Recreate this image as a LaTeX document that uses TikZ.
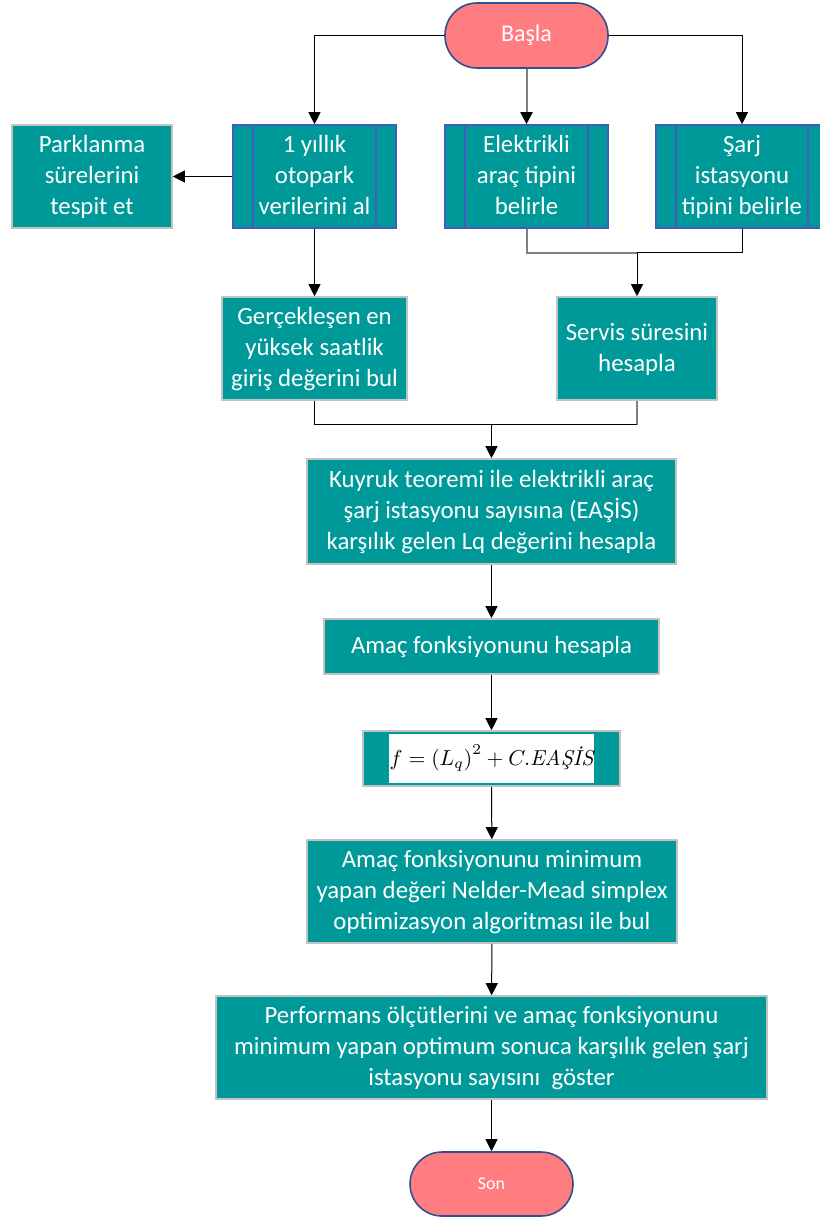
\documentclass[tikz,border=0pt]{standalone}
\usepackage{fix-cm}
\usepackage{amsmath}
\usepackage{fontspec}
\setmainfont{Carlito}
\newfontfamily\lmfont{Latin Modern Roman}
\usetikzlibrary{arrows.meta}
\definecolor{tealbox}{RGB}{0,153,153}
\definecolor{termfill}{RGB}{255,124,128}
\definecolor{termline}{RGB}{47,82,143}
\definecolor{predline}{RGB}{68,90,190}
\definecolor{boxline}{RGB}{195,195,195}
\tikzstyle{terminal} = [rectangle, rounded corners=16pt, minimum width=81.5pt, minimum height=32.5pt, fill=termfill, draw=termline, line width=0.8pt, text=white, font=\fontsize{12}{15}\selectfont]
\tikzstyle{process} = [rectangle, fill=tealbox, draw=boxline, line width=0.8pt, text=white, align=center, inner sep=0pt, text depth=1.5pt, font=\fontsize{12.4}{15.5}\selectfont]
\tikzstyle{predef} = [process, draw=predline, minimum width=81.5pt, minimum height=51.5pt, path picture={\draw[predline, line width=0.8pt] ([xshift=10pt]path picture bounding box.north west) -- ([xshift=10pt]path picture bounding box.south west) ([xshift=-10pt]path picture bounding box.north east) -- ([xshift=-10pt]path picture bounding box.south east);}]
\tikzstyle{arrow} = [line width=0.5pt, -{Triangle[width=6pt,length=6pt,color=black]}]
\tikzstyle{line} = [line width=0.5pt]
\tikzstyle{greyline} = [line width=1pt, draw=black!50]

\begin{document}
\begin{tikzpicture}[x=0.5pt, y=-0.5pt]
   \useasboundingbox (0,0) rectangle (819,1218);
   \node (start) [terminal] at (526.5,35.5) {Başla};
   \node (p1) [predef] at (314.5,176.5) {1 yıllık\\otopark\\verilerini al};
   \node (p2) [predef] at (526.5,176.5) {Elektrikli\\araç tipini\\belirle};
   \node (p3) [predef, minimum width=86pt] at (742,176.5) {Şarj\\istasyonu\\tipini belirle};
   \node (park) [process, minimum width=80pt, minimum height=51.5pt] at (92,176.5) {Parklanma\\sürelerini\\tespit et};
   \node (peak) [process, minimum width=92.5pt, minimum height=51.5pt] at (314.5,348.5) {Gerçekleşen en\\yüksek saatlik\\giriş değerini bul};
   \node (serv) [process, minimum width=80pt, minimum height=51.5pt] at (637,348.5) {Servis süresini\\hesapla};
   \node (queue) [process, minimum width=184.5pt, minimum height=52.5pt] at (491.5,511.5) {Kuyruk teoremi ile elektrikli araç\\şarj istasyonu sayısına (EAŞİS)\\karşılık gelen Lq değerini hesapla};
   \node (obj) [process, minimum width=167.5pt, minimum height=27.5pt] at (491.5,646.5) {Amaç fonksiyonunu hesapla};
   \node (fbox) [process, minimum width=128.5pt, minimum height=27.5pt] at (491.5,758.5) {};
   \node (f) [fill=white, inner sep=0pt, minimum width=102.5pt, minimum height=24.5pt, font=\fontsize{10.8}{13}\selectfont] at (fbox) {$f=\left(L_q\right)^2+C.\mbox{\lmfont\itshape EAŞİS}$};
   \node (nm) [process, minimum width=185pt, minimum height=51.5pt] at (492,891.5) {Amaç fonksiyonunu minimum\\yapan değeri Nelder-Mead simplex\\optimizasyon algoritması ile bul};
   \node (perf) [process, minimum width=275.5pt, minimum height=51.5pt] at (491.5,1047.5) {Performans ölçütlerini ve amaç fonksiyonunu\\minimum yapan optimum sonuca karşılık gelen şarj\\istasyonu sayısını\ \ göster};
   \node (stop) [terminal, minimum height=32pt, font=\fontsize{9}{11}\selectfont] at (491.5,1184) {Son};
   \coordinate (j1) at (637,253);
   \coordinate (j2) at (491.5,425);
   \draw [arrow] (start.west) -| (p1.north);
   \draw [arrow, greyline] (start) -- (p2);
   \draw [arrow] (start.east) -| (p3.north);
   \draw [arrow] (p1) -- (park);
   \draw [arrow] (p1) -- (peak);
   \draw [greyline] (p2.south) |- (j1);
   \draw [line] (j1) -| (p3.south);
   \draw [arrow] (j1) -- (serv);
   \draw [line] (peak.south) |- (j2);
   \draw [greyline] (serv.south) -- (serv.south |- j2);
   \draw [line] (j2) -- (serv.south |- j2);
   \draw [arrow] (j2) -- (queue);
   \draw [arrow] (queue) -- (obj);
   \draw [arrow] (obj) -- (fbox);
   \draw [arrow] (fbox) -- (nm);
   \draw [arrow] (nm) -- (perf);
   \draw [arrow] (perf) -- (stop);
\end{tikzpicture}
\end{document}
